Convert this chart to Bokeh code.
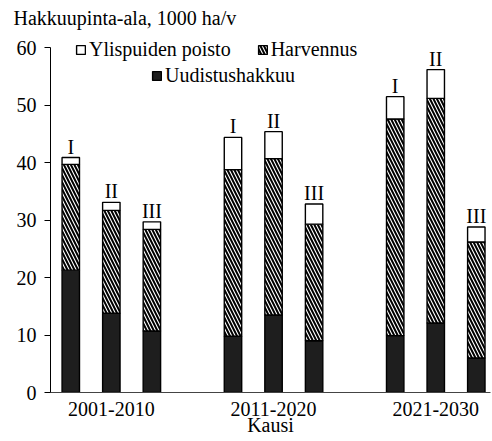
from bokeh.plotting import figure
from bokeh.models import (ColumnDataSource, Range1d, FixedTicker, Legend, LegendItem)
from bokeh.core.properties import value
from bokeh.embed import file_html
from bokeh.resources import INLINE

periods = ["2001-2010", "2011-2020", "2021-2030"]
scenarios = ["I", "II", "III"]
uudistushakkuu = [21.3, 13.8, 10.7, 9.8, 13.5, 9.0, 9.9, 12.1, 6.0]
harvennus = [18.4, 17.9, 17.7, 29.0, 27.2, 20.3, 37.7, 39.1, 20.2]
ylispuiden_poisto = [1.2, 1.4, 1.3, 5.6, 4.7, 3.5, 3.9, 5.0, 2.6]
y_ticks = [0, 10, 20, 30, 40, 50, 60]

FONT = "Liberation Serif"

xs, labs = [], []
for gi, per in enumerate(periods):
    for si, sc in enumerate(scenarios):
        xs.append(gi * 4 + si)
        labs.append(sc)
tot = [u + h + y for u, h, y in zip(uudistushakkuu, harvennus, ylispuiden_poisto)]

src = ColumnDataSource(dict(x=xs, uud=uudistushakkuu, harv=harvennus, yli=ylispuiden_poisto,
                            tot=tot, lab=labs))

p = figure(width=492, height=441, x_range=Range1d(-0.5, 10.35), y_range=Range1d(0, 63.01),
           output_backend="svg", toolbar_location=None,
           title="Hakkuupinta-ala, 1000 ha/v",
           min_border_left=50, min_border_right=2, min_border_top=30, min_border_bottom=49)
p.outline_line_color = None
p.grid.visible = False
p.background_fill_color = "white"

p.title.align = "left"
p.title.offset = -37
p.title.standoff = 3
p.title.text_font = FONT
p.title.text_font_size = "20px"
p.title.text_font_style = "normal"
p.title.text_color = "black"

rs = p.vbar_stack(["uud", "harv", "yli"], x="x", width=0.43, source=src,
                  fill_color=["#1e1e1e", "white", "white"], line_color="black", line_width=1.4,
                  hatch_pattern=[" ", "\\", " "], hatch_color="black", hatch_scale=7, hatch_weight=2)

p.text(x="x", y="tot", text="lab", source=src, text_align="center", text_baseline="alphabetic",
       y_offset=-11, text_font=value(FONT), text_font_size="20px", text_color="black")

# axes
p.yaxis.bounds = (0, 60)
p.yaxis.ticker = FixedTicker(ticks=y_ticks)
p.yaxis.major_tick_in = 0
p.yaxis.major_tick_out = 6
p.yaxis.minor_tick_line_color = None
p.yaxis.major_label_standoff = 8
p.yaxis.major_label_text_font = FONT
p.yaxis.major_label_text_font_size = "20px"
p.yaxis.major_label_text_color = "black"
p.yaxis.axis_line_color = "black"
p.yaxis.major_tick_line_color = "black"

centers = [gi * 4 + 1 for gi in range(len(periods))]
p.xaxis.ticker = FixedTicker(ticks=centers)
p.xaxis.major_label_overrides = {c: per for c, per in zip(centers, periods)}
p.xaxis.major_tick_in = 0
p.xaxis.major_tick_out = 0
p.xaxis.minor_tick_line_color = None
p.xaxis.major_label_standoff = 9
p.xaxis.major_label_text_font = FONT
p.xaxis.major_label_text_font_size = "20px"
p.xaxis.major_label_text_color = "black"
p.xaxis.axis_line_color = "#444444"
p.xaxis.axis_label = "Kausi"
p.xaxis.axis_label_text_font = FONT
p.xaxis.axis_label_text_font_size = "20px"
p.xaxis.axis_label_text_font_style = "normal"
p.xaxis.axis_label_text_color = "black"
p.xaxis.axis_label_standoff = -5

common = dict(glyph_width=11, glyph_height=11, label_height=11, label_standoff=3, padding=0, margin=0,
              border_line_color=None, background_fill_alpha=0, label_text_font=FONT,
              label_text_font_size="20px", label_text_color="black")
leg1 = Legend(items=[LegendItem(label="Ylispuiden poisto", renderers=[rs[2]]),
                     LegendItem(label="Harvennus", renderers=[rs[1]])],
              orientation="horizontal", location=(25, 331), spacing=26, **common)
leg2 = Legend(items=[LegendItem(label="Uudistushakkuu", renderers=[rs[0]])],
              location=(101, 305), **common)
p.add_layout(leg1)
p.add_layout(leg2)

open("out.html", "w").write(file_html(p, INLINE))
